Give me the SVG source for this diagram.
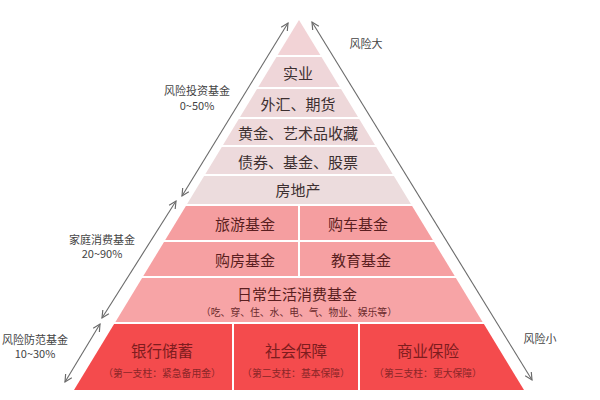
<svg xmlns="http://www.w3.org/2000/svg" width="600" height="400" viewBox="0 0 600 400">
<style>
text{font-family:"Noto Sans CJK SC","Noto Sans",sans-serif;text-anchor:middle;dominant-baseline:central}
.top{fill:#3c2f30;font-size:15px}
.mid{fill:#5a1e20;font-size:15px}
.midsub{fill:#6a2a2c;font-size:9.8px}
.bot{fill:#7e1c1e;font-size:15.5px}
.botsub{fill:#8a2628;font-size:9.8px}
.lbl{fill:#444;font-size:11px}
.arr{stroke:#6a6a6a;stroke-width:1.1;fill:none;marker-start:url(#ah);marker-end:url(#ah)}
.div{stroke:#fff;stroke-width:2}
</style>
<defs>
<marker id="ah" viewBox="0 0 10 10" refX="9" refY="5" markerWidth="9" markerHeight="9" markerUnits="userSpaceOnUse" orient="auto-start-reverse">
<path d="M1,1 L9,5 L1,9" fill="none" stroke="#6a6a6a" stroke-width="1.3"/>
</marker>
</defs>
<rect width="600" height="400" fill="#fff"/>
<g id="apex"><polygon points="299,20 320.3,55 277.7,55" fill="#f2d3d6"/></g>
<g id="n-shiye"><polygon points="276.5,57 321.5,57 339.7,87 258.3,87" fill="#efd6d9"/><text class="top" x="298" y="72">实业</text></g>
<g id="n-waihui"><polygon points="257,89 341,89 358,117 240,117" fill="#eed8da"/><text class="top" x="298" y="103">外汇、期货</text></g>
<g id="n-huangjin"><polygon points="238.8,119 359.2,119 375,145 223,145" fill="#eed9db"/><text class="top" x="298" y="132.5">黄金、艺术品收藏</text></g>
<g id="n-zhaiquan"><polygon points="221.8,147 376.2,147 392.6,174 205.4,174" fill="#eddadc"/><text class="top" x="298" y="161">债券、基金、股票</text></g>
<g id="n-fangdichan"><polygon points="204.1,176 393.9,176 410.9,204 187.1,204" fill="#ecdcdd"/><text class="top" x="298" y="189">房地产</text></g>
<g id="row1"><polygon points="185.9,206 412.1,206 432.8,240 165.2,240" fill="#f59ea0"/><line class="div" x1="299" y1="206" x2="299" y2="240"/></g>
<g id="n-lvyou"><text class="mid" x="245" y="223">旅游基金</text></g>
<g id="n-gouche"><text class="mid" x="358" y="223">购车基金</text></g>
<g id="row2"><polygon points="164,242 434,242 454.7,276 143.3,276" fill="#f6a0a2"/><line class="div" x1="299" y1="242" x2="299" y2="276"/></g>
<g id="n-goufang"><text class="mid" x="245" y="259">购房基金</text></g>
<g id="n-jiaoyu"><text class="mid" x="361" y="259">教育基金</text></g>
<g id="n-richang"><polygon points="142.1,278 455.9,278 482.6,322 115.4,322" fill="#f7a4a6"/><text class="mid" x="297" y="293">日常生活消费基金</text><text class="midsub" x="299" y="312">（吃、穿、住、水、电、气、物业、娱乐等）</text></g>
<g id="row3"><polygon points="114.1,324 483.9,324 524,390 74,390" fill="#f44b4d"/><line class="div" x1="233" y1="324" x2="233" y2="390"/><line class="div" x1="359" y1="324" x2="359" y2="390"/></g>
<g id="n-yinhang"><text class="bot" x="162" y="350">银行储蓄</text><text class="botsub" x="162" y="373">（第一支柱：紧急备用金）</text></g>
<g id="n-shehui"><text class="bot" x="296" y="350">社会保障</text><text class="botsub" x="296" y="373">（第二支柱：基本保障）</text></g>
<g id="n-shangye"><text class="bot" x="428" y="350">商业保险</text><text class="botsub" x="428" y="373">（第三支柱：更大保障）</text></g>
<g id="connectors">
<line class="arr" x1="288" y1="23" x2="182" y2="196"/>
<line class="arr" x1="176" y1="201" x2="102" y2="318"/>
<line class="arr" x1="100" y1="324" x2="65" y2="382"/>
<line class="arr" x1="312" y1="22" x2="532" y2="380"/>
</g>
<g id="labels">
<text class="lbl" x="197" y="90">风险投资基金</text>
<text class="lbl" x="197" y="104.5">0~50%</text>
<text class="lbl" x="102" y="238.5">家庭消费基金</text>
<text class="lbl" x="102" y="253">20~90%</text>
<text class="lbl" x="35" y="338.5">风险防范基金</text>
<text class="lbl" x="35" y="353">10~30%</text>
<text class="lbl" x="366" y="43">风险大</text>
<text class="lbl" x="540" y="338">风险小</text>
</g>
</svg>
